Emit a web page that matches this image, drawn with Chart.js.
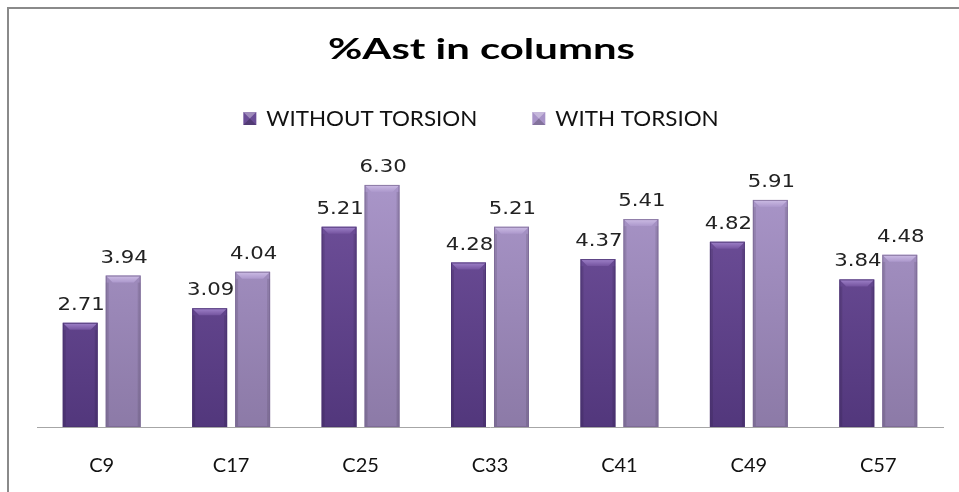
<!DOCTYPE html>
<html>
<head>
<meta charset="utf-8">
<script src="https://cdn.jsdelivr.net/npm/chart.js@4/dist/chart.umd.min.js"></script>
<style>
  html, body { margin: 0; padding: 0; background: #fff; }
  #wrap { position: relative; width: 959px; height: 492px; overflow: hidden; }
  #frame { position: absolute; left: 7px; top: 7px; width: 960px; height: 490px;
           border-top: 2px solid #8a8a8a; border-left: 2px solid #8a8a8a; box-sizing: border-box; }
  canvas { position: absolute; left: 0; top: 0; }
</style>
</head>
<body>
<div id="wrap">
  <div id="frame"></div>
  <canvas id="c" width="959" height="492"></canvas>
</div>
<script>
const categories = ['C9', 'C17', 'C25', 'C33', 'C41', 'C49', 'C57'];
const withoutTorsion = [2.71, 3.09, 5.21, 4.28, 4.37, 4.82, 3.84];
const withTorsion = [3.94, 4.04, 6.30, 5.21, 5.41, 5.91, 4.48];
const seriesNames = ['WITHOUT TORSION', 'WITH TORSION'];
const chartTitle = '%Ast in columns';

const palettes = [
  { top: '#74549f', bottom: '#52377c', bevel: '#a083ca', edge: '#4a3270', legend: '#6a4c96' },
  { top: '#ac98cc', bottom: '#8c7aa7', bevel: '#cdbde5', edge: '#7a6894', legend: '#a893c8' }
];

function gradFor(idx) {
  return function (ctx) {
    const chart = ctx.chart;
    const area = chart.chartArea;
    if (!area) return palettes[idx].top;
    const y0 = chart.scales.y.getPixelForValue(0);
    const g = chart.ctx.createLinearGradient(0, area.top, 0, y0);
    g.addColorStop(0, palettes[idx].top);
    g.addColorStop(1, palettes[idx].bottom);
    return g;
  };
}

function stretchedText(ctx, text, x, y, font, sx, align) {
  ctx.save();
  ctx.font = font;
  ctx.textBaseline = 'alphabetic';
  ctx.textAlign = 'left';
  const w = ctx.measureText(text).width * sx;
  let left = x;
  if (align === 'center') left = x - w / 2;
  ctx.translate(left, y);
  ctx.scale(sx, 1);
  ctx.fillText(text, 0, 0);
  ctx.restore();
  return w;
}

function drawSwatch(ctx, x, y, s, color) {
  ctx.save();
  ctx.fillStyle = color; ctx.fillRect(x, y, s, s);
  ctx.fillStyle = 'rgba(255,255,255,0.35)';
  ctx.beginPath(); ctx.moveTo(x, y); ctx.lineTo(x + s, y); ctx.lineTo(x + s / 2, y + s / 2); ctx.closePath(); ctx.fill();
  ctx.fillStyle = 'rgba(0,0,0,0.22)';
  ctx.beginPath(); ctx.moveTo(x, y + s); ctx.lineTo(x + s, y + s); ctx.lineTo(x + s / 2, y + s / 2); ctx.closePath(); ctx.fill();
  ctx.restore();
}

const decorPlugin = {
  id: 'decor',
  afterDraw(chart) {
    const ctx = chart.ctx;
    // title
    ctx.save();
    ctx.fillStyle = '#000';
    ctx.font = 'bold 28px Lato';
    const tw = ctx.measureText(chartTitle).width;
    ctx.restore();
    ctx.fillStyle = '#000';
    stretchedText(ctx, chartTitle, 481.5, 59, 'bold 28px Lato', 307 / tw, 'center');

    // legend
    const lf = '21px Lato', lsx = 1.066, box = 13, gapBox = 10, gapItem = 55;
    ctx.save();
    ctx.font = lf;
    const widths = seriesNames.map(n => ctx.measureText(n).width * lsx);
    ctx.restore();
    let total = 0;
    widths.forEach((w, i) => { total += box + gapBox + w + (i < widths.length - 1 ? gapItem : 0); });
    let x = 481 - total / 2;
    seriesNames.forEach((n, i) => {
      drawSwatch(ctx, x, 112, box, palettes[i].legend);
      x += box + gapBox;
      ctx.fillStyle = '#111';
      stretchedText(ctx, n, x, 126, lf, lsx, 'left');
      x += widths[i] + gapItem;
    });
  },
  afterDatasetsDraw(chart) {
    const ctx = chart.ctx;
    chart.data.datasets.forEach((ds, di) => {
      const meta = chart.getDatasetMeta(di);
      const p = palettes[di];
      meta.data.forEach((bar, k) => {
        const props = bar.getProps(['x', 'y', 'base', 'width'], true);
        const l = props.x - props.width / 2, r = props.x + props.width / 2;
        const t = props.y, b = props.base;
        const bv = 7;
        ctx.save();
        const g = ctx.createLinearGradient(0, t, 0, t + bv);
        g.addColorStop(0, p.bevel);
        g.addColorStop(1, p.top);
        ctx.fillStyle = g;
        ctx.beginPath();
        ctx.moveTo(l, t); ctx.lineTo(r, t); ctx.lineTo(r - bv, t + bv); ctx.lineTo(l + bv, t + bv); ctx.closePath();
        ctx.fill();
        ctx.fillStyle = 'rgba(0,0,0,0.10)';
        ctx.fillRect(l, t + bv, 3, b - t - bv);
        ctx.fillRect(r - 3, t + bv, 3, b - t - bv);
        ctx.strokeStyle = p.edge;
        ctx.globalAlpha = 0.8;
        ctx.lineWidth = 1;
        ctx.strokeRect(l + 0.5, t + 0.5, props.width - 1, b - t - 1);
        ctx.restore();
        ctx.fillStyle = '#222';
        stretchedText(ctx, ds.data[k].toFixed(2), props.x + 1, t - 13, '17px "DejaVu Sans"', 1.25, 'center');
      });
    });
  }
};

new Chart(document.getElementById('c'), {
  type: 'bar',
  data: {
    labels: categories,
    datasets: [
      { label: seriesNames[0], data: withoutTorsion, backgroundColor: gradFor(0), borderWidth: 0 },
      { label: seriesNames[1], data: withTorsion, backgroundColor: gradFor(1), borderWidth: 0 }
    ]
  },
  options: {
    responsive: false,
    animation: false,
    devicePixelRatio: 1,
    categoryPercentage: 0.664,
    barPercentage: 0.814,
    layout: { padding: { top: 158, left: 37, right: 16, bottom: 0 } },
    plugins: {
      title: { display: false },
      legend: { display: false },
      tooltip: { enabled: false }
    },
    scales: {
      x: {
        grid: { display: false, drawTicks: false },
        border: { display: true, color: '#a6a6a6', width: 1 },
        ticks: { color: '#111', font: { family: 'Lato', size: 20 }, padding: 27 },
        afterFit(scale) { scale.height = 65; }
      },
      y: {
        display: false,
        min: 0,
        max: 7
      }
    }
  },
  plugins: [decorPlugin]
});
</script>
</body>
</html>
